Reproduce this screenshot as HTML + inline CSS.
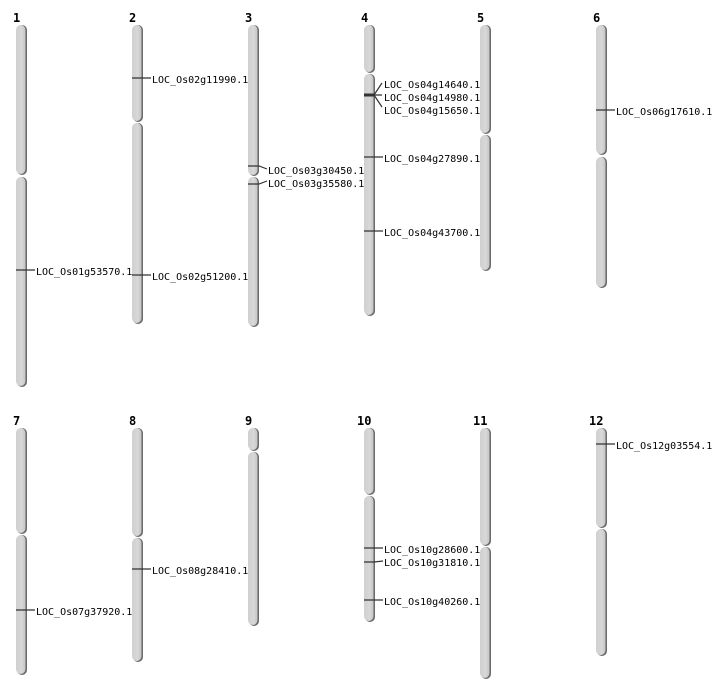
<!DOCTYPE html>
<html><head><meta charset="utf-8"><style>
body{margin:0;background:#fff}
svg{display:block}
text{font-family:"DejaVu Sans Mono","Liberation Mono",monospace;font-size:10px;fill:#000}
.n{font-family:"DejaVu Sans Mono",monospace;font-size:12px;font-weight:bold}
.s{fill:#6a6a6a}
.m{stroke:#333;stroke-width:1.2;fill:none}
</style></head><body>
<svg width="712" height="700" viewBox="0 0 712 700">
<defs>
<linearGradient id="g" x1="0" x2="1"><stop offset="0" stop-color="#cfcfcf"/><stop offset="0.6" stop-color="#d8d8d8"/><stop offset="1" stop-color="#c4c4c4"/></linearGradient>
</defs>
<g>
<text class="n" x="13" y="22">1</text>
<text class="n" x="129" y="22">2</text>
<text class="n" x="245" y="22">3</text>
<text class="n" x="361" y="22">4</text>
<text class="n" x="477" y="22">5</text>
<text class="n" x="593" y="22">6</text>
<text class="n" x="13" y="425">7</text>
<text class="n" x="129" y="425">8</text>
<text class="n" x="245" y="425">9</text>
<text class="n" x="357" y="425">10</text>
<text class="n" x="473" y="425">11</text>
<text class="n" x="589" y="425">12</text>
</g>
<g>
<rect class="s" x="17" y="25" width="10" height="150" rx="5"/><rect fill="url(#g)" x="16" y="25" width="9.5" height="149" rx="5"/>
<rect class="s" x="17" y="177" width="10" height="210" rx="5"/><rect fill="url(#g)" x="16" y="177" width="9.5" height="209" rx="5"/>

<rect class="s" x="133" y="25" width="10" height="97" rx="5"/><rect fill="url(#g)" x="132" y="25" width="9.5" height="96" rx="5"/>
<rect class="s" x="133" y="123" width="10" height="201" rx="5"/><rect fill="url(#g)" x="132" y="123" width="9.5" height="200" rx="5"/>

<rect class="s" x="249" y="25" width="10" height="151" rx="5"/><rect fill="url(#g)" x="248" y="25" width="9.5" height="150" rx="5"/>
<rect class="s" x="249" y="177" width="10" height="150" rx="5"/><rect fill="url(#g)" x="248" y="177" width="9.5" height="149" rx="5"/>

<rect class="s" x="365" y="25" width="10" height="48" rx="5"/><rect fill="url(#g)" x="364" y="25" width="9.5" height="47" rx="5"/>
<rect class="s" x="365" y="74" width="10" height="242" rx="5"/><rect fill="url(#g)" x="364" y="74" width="9.5" height="241" rx="5"/>

<rect class="s" x="481" y="25" width="10" height="109" rx="5"/><rect fill="url(#g)" x="480" y="25" width="9.5" height="108" rx="5"/>
<rect class="s" x="481" y="135" width="10" height="136" rx="5"/><rect fill="url(#g)" x="480" y="135" width="9.5" height="135" rx="5"/>

<rect class="s" x="597" y="25" width="10" height="130" rx="5"/><rect fill="url(#g)" x="596" y="25" width="9.5" height="129" rx="5"/>
<rect class="s" x="597" y="157" width="10" height="131" rx="5"/><rect fill="url(#g)" x="596" y="157" width="9.5" height="130" rx="5"/>

<rect class="s" x="17" y="428" width="10" height="106" rx="5"/><rect fill="url(#g)" x="16" y="428" width="9.5" height="105" rx="5"/>
<rect class="s" x="17" y="535" width="10" height="140" rx="5"/><rect fill="url(#g)" x="16" y="535" width="9.5" height="139" rx="5"/>

<rect class="s" x="133" y="428" width="10" height="109" rx="5"/><rect fill="url(#g)" x="132" y="428" width="9.5" height="108" rx="5"/>
<rect class="s" x="133" y="538" width="10" height="124" rx="5"/><rect fill="url(#g)" x="132" y="538" width="9.5" height="123" rx="5"/>

<rect class="s" x="249" y="428" width="10" height="23" rx="5"/><rect fill="url(#g)" x="248" y="428" width="9.5" height="22" rx="5"/>
<rect class="s" x="249" y="452" width="10" height="174" rx="5"/><rect fill="url(#g)" x="248" y="452" width="9.5" height="173" rx="5"/>

<rect class="s" x="365" y="428" width="10" height="67" rx="5"/><rect fill="url(#g)" x="364" y="428" width="9.5" height="66" rx="5"/>
<rect class="s" x="365" y="496" width="10" height="126" rx="5"/><rect fill="url(#g)" x="364" y="496" width="9.5" height="125" rx="5"/>

<rect class="s" x="481" y="428" width="10" height="118" rx="5"/><rect fill="url(#g)" x="480" y="428" width="9.5" height="117" rx="5"/>
<rect class="s" x="481" y="547" width="10" height="132" rx="5"/><rect fill="url(#g)" x="480" y="547" width="9.5" height="131" rx="5"/>

<rect class="s" x="597" y="428" width="10" height="100" rx="5"/><rect fill="url(#g)" x="596" y="428" width="9.5" height="99" rx="5"/>
<rect class="s" x="597" y="529" width="10" height="127" rx="5"/><rect fill="url(#g)" x="596" y="529" width="9.5" height="126" rx="5"/>
</g>
<g>
<path class="m" d="M16 270H35"/><text x="36" y="275">LOC_Os01g53570.1</text>
<path class="m" d="M132 78H151"/><text x="152" y="83">LOC_Os02g11990.1</text>
<path class="m" d="M132 275H151"/><text x="152" y="280">LOC_Os02g51200.1</text>
<path class="m" d="M248 166H259L267 169"/><text x="268" y="174">LOC_Os03g30450.1</text>
<path class="m" d="M248 184H259L267 181"/><text x="268" y="187">LOC_Os03g35580.1</text>
<path style="stroke:#333;stroke-width:3" d="M364 95H374"/>
<path class="m" d="M374 95L382 83M374 95H382M374 95L382 107"/>
<text x="384" y="88">LOC_Os04g14640.1</text>
<text x="384" y="101">LOC_Os04g14980.1</text>
<text x="384" y="114">LOC_Os04g15650.1</text>
<path class="m" d="M364 157H383"/><text x="384" y="162">LOC_Os04g27890.1</text>
<path class="m" d="M364 231H383"/><text x="384" y="236">LOC_Os04g43700.1</text>
<path class="m" d="M596 110H615"/><text x="616" y="115">LOC_Os06g17610.1</text>
<path class="m" d="M16 610H35"/><text x="36" y="615">LOC_Os07g37920.1</text>
<path class="m" d="M132 569H151"/><text x="152" y="574">LOC_Os08g28410.1</text>
<path class="m" d="M364 548H383"/><text x="384" y="553">LOC_Os10g28600.1</text>
<path class="m" d="M364 562H374L383 561"/><text x="384" y="566">LOC_Os10g31810.1</text>
<path class="m" d="M364 600H383"/><text x="384" y="605">LOC_Os10g40260.1</text>
<path class="m" d="M596 444H615"/><text x="616" y="449">LOC_Os12g03554.1</text>
</g>
</svg>
</body></html>
